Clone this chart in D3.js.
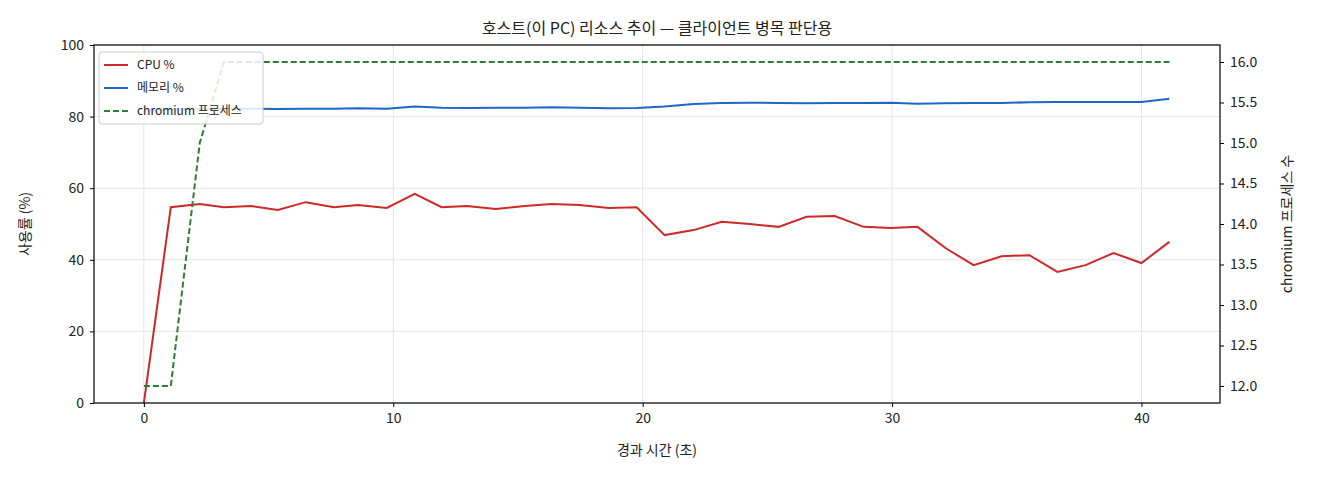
<!DOCTYPE html><html><head><meta charset="utf-8"><script src="https://cdn.jsdelivr.net/npm/d3@7"></script>
<style>body{margin:0;background:#fff}text{font-family:"Noto Sans CJK KR","Noto Sans",sans-serif}</style></head><body><svg id="c" width="1320" height="480"></svg><script>
const times=[0,1.08,2.24,3.21,4.29,5.37,6.49,7.62,8.58,9.74,10.86,11.94,12.95,14.11,15.27,16.35,17.47,18.64,19.76,20.88,22.04,23.17,24.29,25.45,26.57,27.70,28.86,29.94,31.02,32.14,33.27,34.39,35.51,36.63,37.76,38.88,40.00,41.12];
const cpu=[0,54.7,55.6,54.7,55,53.9,56.1,54.7,55.3,54.5,58.4,54.7,55,54.2,55,55.6,55.3,54.5,54.7,46.9,48.3,50.6,50,49.2,52,52.2,49.2,48.9,49.2,43.3,38.5,41,41.3,36.6,38.5,41.9,39.1,45];
const mem=[81.6,81.9,82.1,82.2,82.2,82.1,82.2,82.2,82.3,82.2,82.8,82.5,82.4,82.5,82.5,82.6,82.5,82.3,82.4,82.8,83.5,83.8,83.9,83.8,83.7,83.8,83.8,83.9,83.6,83.7,83.8,83.8,84,84.1,84.1,84.1,84.1,85];
const procs=[12,12,15,16,16,16,16,16,16,16,16,16,16,16,16,16,16,16,16,16,16,16,16,16,16,16,16,16,16,16,16,16,16,16,16,16,16,16];
const svg=d3.select("#c");
const L=94,R=1220,T=45,B=403;
const x=d3.scaleLinear().domain([-2.0,43.15]).range([L,R]);
const y=d3.scaleLinear().domain([0,100]).range([B,T]);
const y2=d3.scaleLinear().domain([11.79,16.21]).range([B,T]);
const g=svg.append("g");
g.selectAll(".gx").data([0,10,20,30,40]).join("line").attr("x1",d=>x(d)).attr("x2",d=>x(d)).attr("y1",T).attr("y2",B).attr("stroke","#e5e5e5");
g.selectAll(".gy").data([0,20,40,60,80,100]).join("line").attr("x1",L).attr("x2",R).attr("y1",d=>y(d)).attr("y2",d=>y(d)).attr("stroke","#e5e5e5");
const ax=svg.append("g").attr("transform",`translate(0,${B})`).call(d3.axisBottom(x).tickValues([0,10,20,30,40]).tickSize(4).tickPadding(6));
const ay=svg.append("g").attr("transform",`translate(${L},0)`).call(d3.axisLeft(y).tickValues([0,20,40,60,80,100]).tickSize(4).tickPadding(6));
const ay2=svg.append("g").attr("transform",`translate(${R},0)`).call(d3.axisRight(y2).tickValues(d3.range(12,16.01,0.5)).tickFormat(d3.format(".1f")).tickSize(4).tickPadding(6));
[ax,ay,ay2].forEach(a=>{a.selectAll("text").attr("font-size",14).attr("fill","#222");a.select(".domain").remove();});
const ln=(ys,arr)=>d3.line().x((d,i)=>x(times[i])).y(d=>ys(d))(arr);
svg.append("path").attr("d",ln(y,cpu)).attr("fill","none").attr("stroke-width",2).attr("stroke","#cc2a2a");
svg.append("path").attr("d",ln(y,mem)).attr("fill","none").attr("stroke","#1f66c8").attr("stroke-width",2);
svg.append("path").attr("d",ln(y2,procs)).attr("fill","none").attr("stroke","#2e7d32").attr("stroke-width",2).attr("stroke-dasharray","6,3");
svg.append("rect").attr("x",L).attr("y",T).attr("width",R-L).attr("height",B-T).attr("fill","none").attr("stroke","#000").attr("stroke-width",1.2);
const lg=svg.append("g").attr("transform","translate(99,52)");
lg.append("rect").attr("width",164).attr("height",72).attr("rx",3).attr("fill","rgba(255,255,255,0.85)").attr("stroke","#ccc");
[["CPU %","#cc2a2a",null],["메모리 %","#1f66c8",null],["chromium 프로세스","#2e7d32","6,3"]].forEach((d,i)=>{
 const yy=13+i*23;
 lg.append("line").attr("x1",5).attr("x2",29).attr("y1",yy).attr("y2",yy).attr("stroke",d[1]).attr("stroke-width",2).attr("stroke-dasharray",d[2]);
 lg.append("text").attr("x",38).attr("y",yy+4).attr("font-size",12).attr("fill","#222").text(d[0]);
});
svg.append("text").attr("x",657).attr("y",34).attr("text-anchor","middle").attr("font-size",16).attr("fill","#222").text("호스트(이 PC) 리소스 추이 — 클라이언트 병목 판단용");
svg.append("text").attr("x",657).attr("y",455).attr("text-anchor","middle").attr("font-size",14).attr("fill","#222").text("경과 시간 (초)");
svg.append("text").attr("transform",`translate(30,224) rotate(-90)`).attr("text-anchor","middle").attr("font-size",14).attr("fill","#222").text("사용률 (%)");
svg.append("text").attr("transform",`translate(1292,224) rotate(-90)`).attr("text-anchor","middle").attr("font-size",14).attr("fill","#222").text("chromium 프로세스 수");
</script></body></html>
